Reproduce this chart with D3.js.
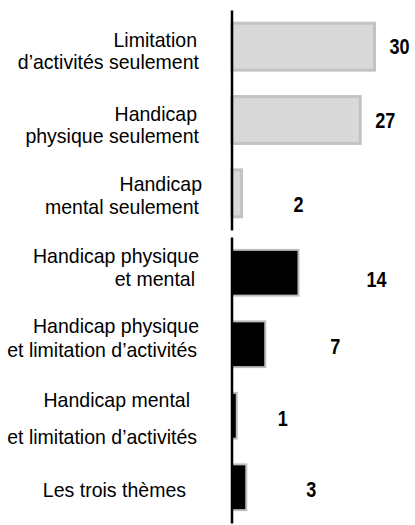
<!DOCTYPE html>
<html>
<head>
<meta charset="utf-8">
<script src="https://cdn.jsdelivr.net/npm/d3@7"></script>
<style>
  body { margin: 0; background: #fff; }
  text { font-family: "Liberation Sans", Arial, "Helvetica Neue", sans-serif; }
</style>
</head>
<body>
<div id="chart"></div>
<script>
// "seulement" group (grey bars)
const topLabels = [
  ["Limitation", "d’activités seulement"],
  ["Handicap", "physique seulement"],
  ["Handicap", "mental seulement"]
];
const topValues = [30, 27, 2];

// combined group (black bars)
const bottomLabels = [
  ["Handicap physique", "et mental"],
  ["Handicap physique", "et limitation d’activités"],
  ["Handicap mental", "et limitation d’activités"],
  ["Les trois thèmes"]
];
const bottomValues = [14, 7, 1, 3];

const width = 415, height = 525;
const axisX = 232;
const labelRight = 199;
const catSquash = 0.93, valSquash = 0.84; // narrow-font look

const svg = d3.select("#chart").append("svg")
  .attr("width", width)
  .attr("height", height);

// one value scale shared by both panels
const x = d3.scaleLinear().domain([0, 30]).range([axisX, axisX + 142.5]);

const panels = [
  {
    labels: topLabels, values: topValues,
    top: 10, bottom: 230,
    fill: "#d9d9d9", stroke: "#c3c3c3", strokeWidth: 3,
    lineDy: [[0, 22.3], [1, 23], [-2, 20.5]],
    lineDx: [[-2, 0], [-2, 0], [3, 0]],
    valDx: [15, 15, 52], valDy: [0, 0, 11]
  },
  {
    labels: bottomLabels, values: bottomValues,
    top: 237, bottom: 523,
    fill: "#000", stroke: "#bdbdbd", strokeWidth: 2,
    lineDy: [[-10, 13.5], [-11, 13], [-9, 28], [10]],
    lineDx: [[0, -4], [0, -2], [-9, -2], [-13]],
    valDx: [68, 65, 41, 60], valDy: [7, 2, 3, 2]
  }
];

panels.forEach(p => {
  const y = d3.scaleBand()
    .domain(d3.range(p.values.length))
    .range([p.top, p.bottom])
    .paddingInner(0.36)
    .paddingOuter(0.18);

  const g = svg.append("g");

  g.selectAll("rect.bar")
    .data(p.values)
    .enter().append("rect")
    .attr("class", "bar")
    .attr("x", x(0))
    .attr("y", (d, i) => y(i))
    .attr("width", d => x(d) - x(0))
    .attr("height", y.bandwidth())
    .attr("fill", p.fill)
    .attr("stroke", p.stroke)
    .attr("stroke-width", p.strokeWidth);

  // value labels
  g.selectAll("text.value")
    .data(p.values)
    .enter().append("text")
    .attr("class", "value")
    .attr("transform", (d, i) =>
      `translate(${x(d) + p.valDx[i]},${y(i) + y.bandwidth() / 2 + p.valDy[i] + 7.5}) scale(${valSquash},1)`)
    .attr("font-size", 21.5)
    .attr("font-weight", "bold")
    .attr("fill", "#000")
    .text(d => d);

  // category labels, right aligned left of the axis
  const cat = g.selectAll("text.cat")
    .data(p.labels)
    .enter().append("text")
    .attr("class", "cat")
    .attr("text-anchor", "end")
    .attr("transform", `translate(${labelRight},0) scale(${catSquash},1)`)
    .attr("font-size", 21)
    .attr("fill", "#000");

  cat.each(function(lines, i) {
    const c = y(i) + y.bandwidth() / 2;
    d3.select(this).selectAll("tspan")
      .data(lines)
      .enter().append("tspan")
      .attr("x", (d, j) => p.lineDx[i][j] / catSquash)
      .attr("y", (d, j) => c + p.lineDy[i][j])
      .text(d => d);
  });

  // vertical axis segment on top of the bars
  const axis = g.append("g")
    .attr("transform", `translate(${axisX - 0.5},0)`)
    .call(d3.axisLeft(y).tickValues([]).tickSizeOuter(0));
  axis.select(".domain").attr("stroke", "#000").attr("stroke-width", 2.5);
});
</script>
</body>
</html>
